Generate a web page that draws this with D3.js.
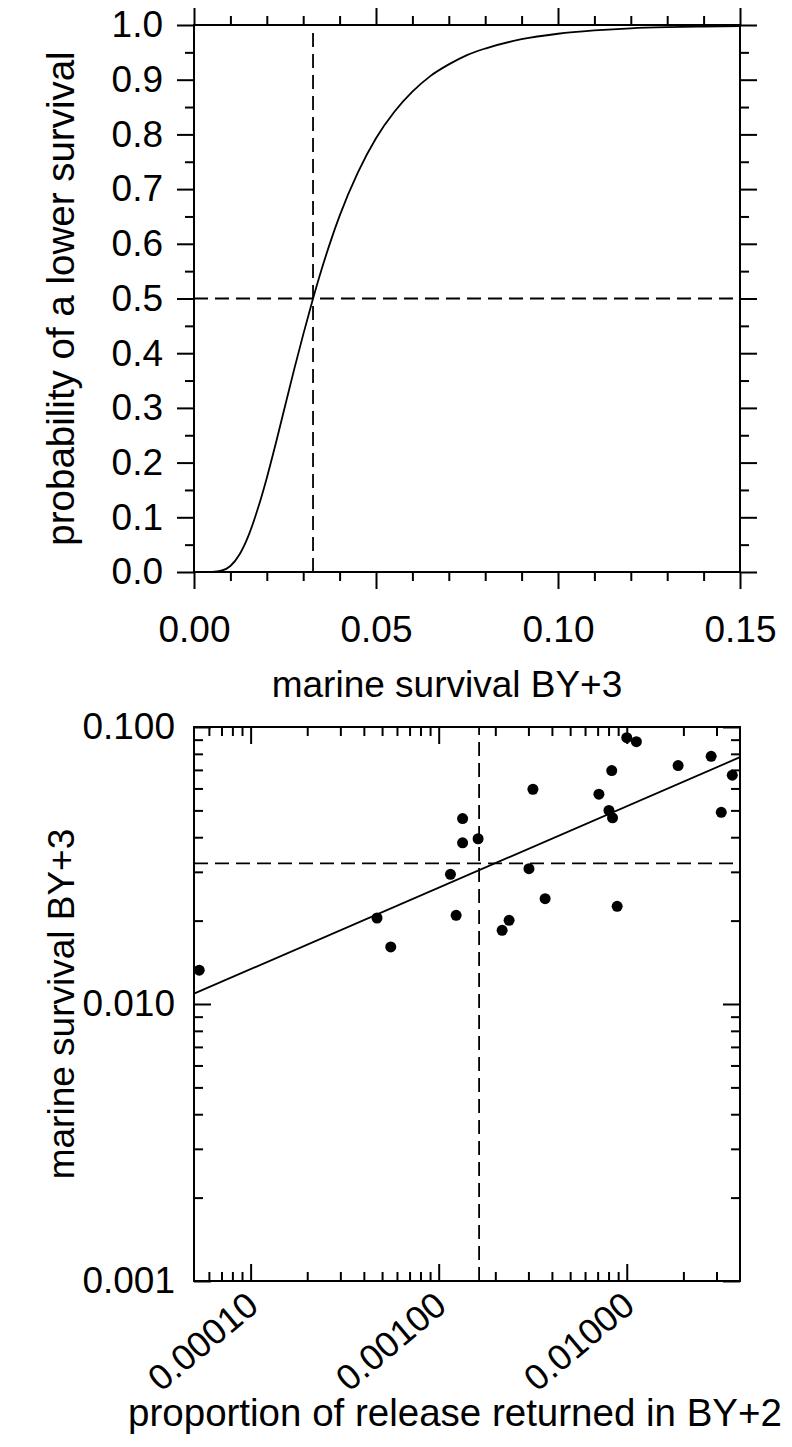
<!DOCTYPE html>
<html><head><meta charset="utf-8">
<script src="https://cdn.jsdelivr.net/npm/d3@7"></script>
<style>
html,body{margin:0;padding:0;background:#fff;}
svg{display:block;font-family:"Liberation Sans",Arial,sans-serif;}
</style></head>
<body><svg id="c" width="792" height="1447"></svg>
<script>
// ---- top panel: cumulative probability curve
const curveX = [0, 0.0025, 0.005, 0.0075, 0.01, 0.0125, 0.015, 0.0175, 0.02, 0.0225, 0.025, 0.0275, 0.03, 0.0325, 0.035, 0.0375, 0.04, 0.045, 0.05, 0.055, 0.06, 0.065, 0.07, 0.075, 0.08, 0.09, 0.10, 0.11, 0.12, 0.13, 0.14, 0.15];
const curveY = [0, 0.0000, 0.0002, 0.0023, 0.011, 0.032, 0.067, 0.115, 0.172, 0.236, 0.303, 0.370, 0.434, 0.495, 0.552, 0.604, 0.651, 0.730, 0.793, 0.841, 0.878, 0.907, 0.928, 0.945, 0.957, 0.974, 0.984, 0.990, 0.994, 0.996, 0.997, 0.998];
const medianSurvival = 0.0327;
const halfProb = 0.5;
const topXTicks = [0, 0.05, 0.10, 0.15];
const topYTicks = [0, 0.1, 0.2, 0.3, 0.4, 0.5, 0.6, 0.7, 0.8, 0.9, 1.0];
const topXTitle = "marine survival BY+3";
const topYTitle = "probability of a lower survival";

// ---- bottom panel: scatter with regression
const ptsX = [0.0000533, 0.000470, 0.000556, 0.001238, 0.001155, 0.00134, 0.00134, 0.00162, 0.00302, 0.00317, 0.002174, 0.002368, 0.00368, 0.00711, 0.00804, 0.00832, 0.0084, 0.00889, 0.0100, 0.01125, 0.01875, 0.0281, 0.0318, 0.0364];
const ptsY = [0.01325, 0.02044, 0.01607, 0.0209, 0.0294, 0.0467, 0.0382, 0.0395, 0.0308, 0.0596, 0.01845, 0.02004, 0.0240, 0.0572, 0.0500, 0.0696, 0.0470, 0.02252, 0.0915, 0.0885, 0.0726, 0.0784, 0.0492, 0.0670];
const fitX = [0.00005, 0.04];
const fitY = [0.0109, 0.0778];
const cutX = 0.00164;
const cutY = 0.0322;
const botXTicks = [0.0001, 0.001, 0.01];
const botXTickLabels = ["0.00010", "0.00100", "0.01000"];
const botYTicks = [0.001, 0.01, 0.1];
const botYTickLabels = ["0.001", "0.010", "0.100"];
const botXTitle = "proportion of release returned in BY+2";
const botYTitle = "marine survival BY+3";

const svg = d3.select("#c");
const L = 194, R = 740;
const MAJ = 17, MIN = 9;
const TICKFONT = 37;

function styleAxis(g){
  g.select(".domain").remove();
  g.selectAll(".tick line").attr("stroke","#000").attr("stroke-width",2);
  g.selectAll("text").attr("font-size",TICKFONT).attr("fill","#000").attr("font-family","Liberation Sans, Arial, sans-serif");
}

// ================= TOP PANEL =================
const T1 = 25, B1 = 572;
const x1 = d3.scaleLinear().domain([0, 0.15]).range([L, R]);
const y1 = d3.scaleLinear().domain([0, 1]).range([B1, T1]);
const g1 = svg.append("g");
const minorX1 = d3.range(0, 16).map(i => i/100).filter(v => !topXTicks.some(t => Math.abs(t-v) < 1e-9));
const minorY1 = d3.range(0, 10).map(i => i/10 + 0.05);

g1.append("g").attr("transform",`translate(0,${B1})`).call(d3.axisBottom(x1).tickValues(topXTicks).tickSize(MAJ).tickPadding(27).tickFormat(d3.format(".2f"))).call(styleAxis);
g1.append("g").attr("transform",`translate(0,${B1})`).call(d3.axisBottom(x1).tickValues(minorX1).tickSize(MIN).tickFormat("")).call(styleAxis);
g1.append("g").attr("transform",`translate(0,${T1})`).call(d3.axisTop(x1).tickValues(topXTicks).tickSize(MAJ).tickFormat("")).call(styleAxis);
g1.append("g").attr("transform",`translate(0,${T1})`).call(d3.axisTop(x1).tickValues(minorX1).tickSize(MIN).tickFormat("")).call(styleAxis);
g1.append("g").attr("transform",`translate(${L},0)`).call(d3.axisLeft(y1).tickValues(topYTicks).tickSize(MAJ).tickPadding(14).tickFormat(d3.format(".1f"))).call(styleAxis);
g1.append("g").attr("transform",`translate(${L},0)`).call(d3.axisLeft(y1).tickValues(minorY1).tickSize(MIN).tickFormat("")).call(styleAxis);
g1.append("g").attr("transform",`translate(${R},0)`).call(d3.axisRight(y1).tickValues(topYTicks).tickSize(MAJ).tickFormat("")).call(styleAxis);
g1.append("g").attr("transform",`translate(${R},0)`).call(d3.axisRight(y1).tickValues(minorY1).tickSize(MIN).tickFormat("")).call(styleAxis);
g1.append("rect").attr("x",L).attr("y",T1).attr("width",R-L).attr("height",B1-T1).attr("fill","none").attr("stroke","#000").attr("stroke-width",2);

g1.append("line").attr("x1",x1(medianSurvival)).attr("x2",x1(medianSurvival)).attr("y1",y1(0)).attr("y2",y1(1))
  .attr("stroke","#000").attr("stroke-width",1.8).attr("stroke-dasharray","14,7");
g1.append("line").attr("x1",x1(0)).attr("x2",x1(0.15)).attr("y1",y1(halfProb)).attr("y2",y1(halfProb))
  .attr("stroke","#000").attr("stroke-width",1.8).attr("stroke-dasharray","14,7");

const curveData = curveX.map((v,i) => [v, curveY[i]]);
g1.append("path").datum(curveData)
  .attr("d", d3.line().x(d => x1(d[0])).y(d => y1(d[1])).curve(d3.curveMonotoneX))
  .attr("fill","none").attr("stroke","#000").attr("stroke-width",1.8);

g1.append("text").attr("x",447).attr("y",697).attr("text-anchor","middle").attr("font-size",37).text(topXTitle);
g1.append("text").attr("transform",`translate(74,${(T1+B1)/2}) rotate(-90)`).attr("text-anchor","middle").attr("font-size",38.5).text(topYTitle);

// ================= BOTTOM PANEL =================
const T2 = 727, B2 = 1281;
const x2 = d3.scaleLog().domain([0.00005, 0.04]).range([L, R]);
const y2 = d3.scaleLog().domain([0.001, 0.1]).range([B2, T2]);
const g2 = svg.append("g");
function logMinor(lo, hi, majors){
  const out = [];
  for (let e = -6; e <= 0; e++){
    for (let m = 1; m <= 9; m++){
      const v = m * Math.pow(10, e);
      if (v >= lo*0.9999 && v <= hi*1.0001 && !majors.some(t => Math.abs(t - v)/t < 1e-6)) out.push(v);
    }
  }
  return out;
}
const minorX2 = logMinor(0.00005, 0.04, botXTicks).filter(v => v > 0.0000501 && v < 0.0399);
const minorY2 = logMinor(0.001, 0.1, botYTicks);

g2.append("g").attr("transform",`translate(0,${B2})`).call(d3.axisBottom(x2).tickValues(botXTicks).tickSize(-MAJ).tickFormat("")).call(styleAxis);
g2.append("g").attr("transform",`translate(0,${B2})`).call(d3.axisBottom(x2).tickValues(minorX2).tickSize(-MIN).tickFormat("")).call(styleAxis);
g2.append("g").attr("transform",`translate(0,${T2})`).call(d3.axisTop(x2).tickValues(botXTicks).tickSize(-MAJ).tickFormat("")).call(styleAxis);
g2.append("g").attr("transform",`translate(0,${T2})`).call(d3.axisTop(x2).tickValues(minorX2).tickSize(-MIN).tickFormat("")).call(styleAxis);
g2.append("g").attr("transform",`translate(${L},0)`).call(d3.axisLeft(y2).tickValues(botYTicks).tickSize(-MAJ).tickPadding(19).tickFormat((d,i) => botYTickLabels[i])).call(styleAxis);
g2.append("g").attr("transform",`translate(${L},0)`).call(d3.axisLeft(y2).tickValues(minorY2).tickSize(-MIN).tickFormat("")).call(styleAxis);
g2.append("g").attr("transform",`translate(${R},0)`).call(d3.axisRight(y2).tickValues(botYTicks).tickSize(-MAJ).tickFormat("")).call(styleAxis);
g2.append("g").attr("transform",`translate(${R},0)`).call(d3.axisRight(y2).tickValues(minorY2).tickSize(-MIN).tickFormat("")).call(styleAxis);
g2.append("rect").attr("x",L).attr("y",T2).attr("width",R-L).attr("height",B2-T2).attr("fill","none").attr("stroke","#000").attr("stroke-width",2);

g2.selectAll("text.xl").data(botXTicks).enter().append("text").attr("class","xl")
  .attr("transform", d => `translate(${x2(d)+10},${B2+28}) rotate(-40)`)
  .attr("text-anchor","end").attr("font-size",36).text((d,i) => botXTickLabels[i]);

g2.append("line").attr("x1",x2(cutX)).attr("x2",x2(cutX)).attr("y1",B2).attr("y2",T2)
  .attr("stroke","#000").attr("stroke-width",1.8).attr("stroke-dasharray","14,7");
g2.append("line").attr("x1",L).attr("x2",R).attr("y1",y2(cutY)).attr("y2",y2(cutY))
  .attr("stroke","#000").attr("stroke-width",1.8).attr("stroke-dasharray","14,7");

g2.append("line").attr("x1",x2(fitX[0])).attr("x2",x2(fitX[1])).attr("y1",y2(fitY[0])).attr("y2",y2(fitY[1]))
  .attr("stroke","#000").attr("stroke-width",1.8);

g2.selectAll("circle").data(ptsX.map((v,i)=>[v,ptsY[i]])).enter().append("circle")
  .attr("cx", d => x2(d[0])).attr("cy", d => y2(d[1])).attr("r",5.5).attr("fill","#000");

g2.append("text").attr("x",455).attr("y",1426).attr("text-anchor","middle").attr("font-size",38.5).text(botXTitle);
g2.append("text").attr("transform",`translate(74,${(T2+B2)/2}) rotate(-90)`).attr("text-anchor","middle").attr("font-size",37).text(botYTitle);
</script></body></html>
